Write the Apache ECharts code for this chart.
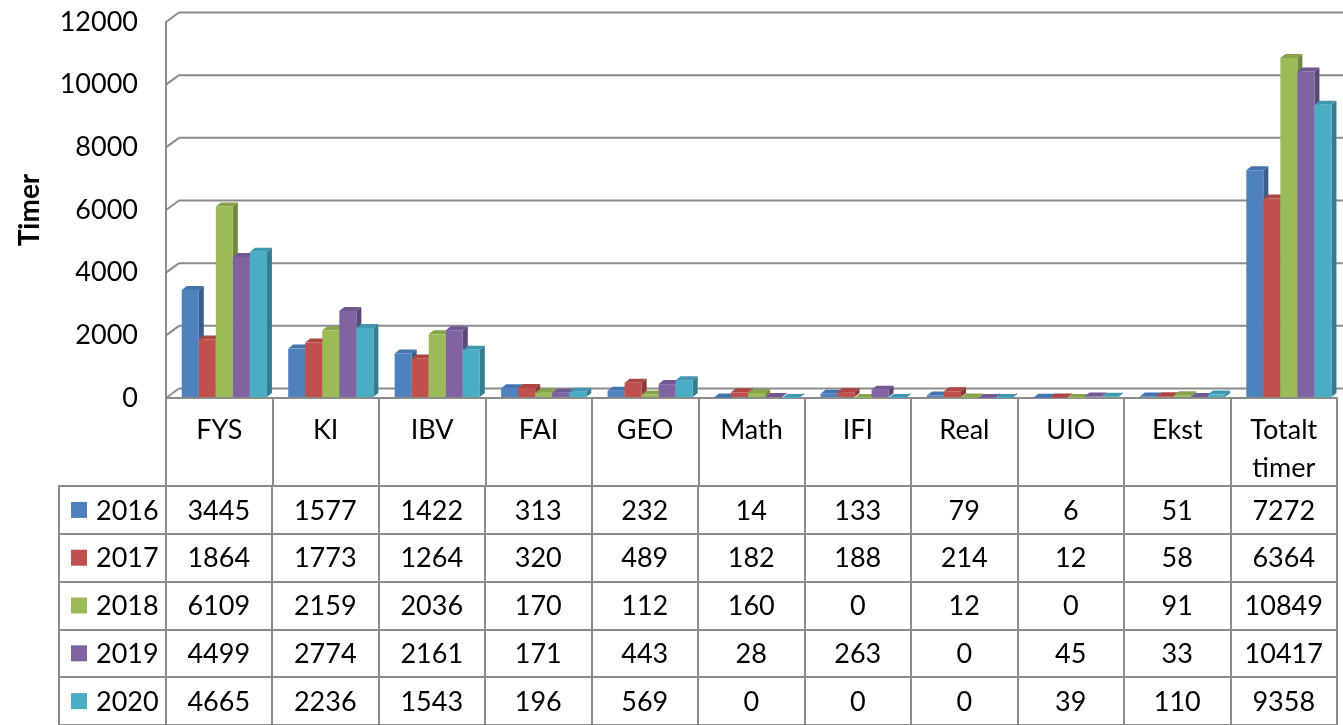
<!DOCTYPE html>
<html>
<head>
<meta charset="utf-8">
<script src="https://cdn.jsdelivr.net/npm/echarts@6/dist/echarts.min.js"></script>
<style>html,body{margin:0;padding:0;background:#fff}#c{width:1343px;height:725px}</style>
</head>
<body>
<div id="c"></div>
<script>
const categories = ['FYS', 'KI', 'IBV', 'FAI', 'GEO', 'Math', 'IFI', 'Real', 'UIO', 'Ekst', 'Totalt timer'];
const years = ['2016', '2017', '2018', '2019', '2020'];
const v2016 = [3445, 1577, 1422, 313, 232, 14, 133, 79, 6, 51, 7272];
const v2017 = [1864, 1773, 1264, 320, 489, 182, 188, 214, 12, 58, 6364];
const v2018 = [6109, 2159, 2036, 170, 112, 160, 0, 12, 0, 91, 10849];
const v2019 = [4499, 2774, 2161, 171, 443, 28, 263, 0, 45, 33, 10417];
const v2020 = [4665, 2236, 1543, 196, 569, 0, 0, 0, 39, 110, 9358];
const yTicks = [0, 2000, 4000, 6000, 8000, 10000, 12000];

const seriesValues = [v2016, v2017, v2018, v2019, v2020];
const colors = [
  {front: '#4F81BD', side: '#385D8A', top: '#4474AE'},
  {front: '#C0504D', side: '#8C3A38', top: '#AD4643'},
  {front: '#9BBB59', side: '#71893F', top: '#87A34C'},
  {front: '#8064A2', side: '#5C4776', top: '#715893'},
  {front: '#4BACC6', side: '#347D91', top: '#4098B0'}
];
const GRID = '#8c8c8c';
const FONT = 'Lato, "Liberation Sans", sans-serif';
const FS = 26;
const FST = 27;

const chart = echarts.init(document.getElementById('c'), null, {renderer: 'canvas'});

const D = 5, DY = 4;

function barSeries(si) {
  return {
    type: 'custom',
    xAxisIndex: 0, yAxisIndex: 0,
    z: 3,
    silent: true,
    data: seriesValues[si].map((v, j) => [j, v]),
    renderItem: function (params, api) {
      const top = api.coord([api.value(0), api.value(1)]);
      const base = api.coord([api.value(0), 0]);
      const band = api.size([1, 0])[0];
      const bw = band * 0.16;
      const left = base[0] - band / 2 + band * 0.148 + si * bw;
      const x1 = left + bw;
      const yb = base[1] - 1, yt = top[1];
      const c = colors[si];
      return {
        type: 'group',
        children: [
          {type: 'polygon', shape: {points: [[x1, yb], [x1, yt], [x1 + D, yt - DY], [x1 + D, yb - DY]]}, style: {fill: c.side}},
          {type: 'polygon', shape: {points: [[left, yt], [x1, yt], [x1 + D, yt - DY], [left + D, yt - DY]]}, style: {fill: c.top}},
          {type: 'rect', shape: {x: left, y: yt, width: bw, height: yb - yt}, style: {fill: c.front}}
        ]
      };
    }
  };
}

const wallSeries = {
  type: 'custom',
  xAxisIndex: 0, yAxisIndex: 0,
  z: 1,
  silent: true,
  data: yTicks.map(v => [0, v]),
  renderItem: function (params, api) {
    const y = api.coord([0, api.value(1)])[1];
    const cs = params.coordSys;
    const x0 = cs.x;
    return {
      type: 'group',
      children: [
        {type: 'line', shape: {x1: x0, y1: y, x2: x0 + 13, y2: y - 9.5}, style: {stroke: GRID, lineWidth: 2}},
        {type: 'line', shape: {x1: x0 + 13, y1: y - 9.5, x2: x0 + cs.width + 30, y2: y - 9.5}, style: {stroke: GRID, lineWidth: 2}}
      ]
    };
  }
};

const tableData = [];
years.forEach((y, r) => {
  tableData.push([0, r]);
  categories.forEach((c, k) => tableData.push([k + 1, r]));
});

const tableSeries = {
  type: 'custom',
  xAxisIndex: 1, yAxisIndex: 1,
  z: 4,
  silent: true,
  data: tableData,
  renderItem: function (params, api) {
    const col = api.value(0), row = api.value(1);
    const p = api.coord([col, row]);
    if (col === 0) {
      const band = api.size([1, 0])[0];
      const lx = p[0] - band / 2;
      return {
        type: 'group',
        children: [
          {type: 'rect', shape: {x: lx + 12, y: p[1] - 8, width: 16, height: 16}, style: {fill: colors[row].front}},
          {type: 'text', style: {text: years[row], x: lx + 37, y: p[1] + 1, align: 'left', verticalAlign: 'middle', fontSize: FST, fontFamily: FONT, fill: '#000'}}
        ]
      };
    }
    return {
      type: 'text',
      style: {text: String(seriesValues[row][col - 1]), x: p[0], y: p[1] + 1, align: 'center', verticalAlign: 'middle', fontSize: FST, fontFamily: FONT, fill: '#000'}
    };
  }
};

const option = {
  animation: false,
  backgroundColor: '#fff',
  grid: [
    {left: 166, right: 6, top: 22, height: 376},
    {left: 59, right: 6, top: 486, height: 241.5}
  ],
  xAxis: [
    {
      type: 'category', gridIndex: 0, data: categories, boundaryGap: true,
      axisLine: {show: true, lineStyle: {color: GRID, width: 2}},
      axisTick: {show: true, interval: 0, length: 88, alignWithLabel: false, lineStyle: {color: GRID, width: 2}},
      axisLabel: {interval: 0, margin: 13, fontSize: FST, fontFamily: FONT, color: '#000', lineHeight: 38, verticalAlign: 'top',
        formatter: v => v.replace(' ', '\n')},
      splitLine: {show: false}
    },
    {
      type: 'category', gridIndex: 1, data: [''].concat(categories), boundaryGap: true, position: 'top',
      axisLine: {show: true, lineStyle: {color: GRID, width: 2}},
      axisTick: {show: false},
      axisLabel: {show: false},
      splitLine: {show: true, interval: 0, lineStyle: {color: GRID, width: 2}}
    }
  ],
  yAxis: [
    {
      type: 'value', gridIndex: 0, min: 0, max: 12000, interval: 2000,
      axisLine: {show: true, lineStyle: {color: GRID, width: 2}},
      axisTick: {show: false},
      splitLine: {show: false},
      axisLabel: {margin: 28, fontSize: FST, fontFamily: FONT, color: '#000', formatter: v => String(v)},
      name: 'Timer', nameLocation: 'middle', nameGap: 122, nameRotate: 90,
      nameTextStyle: {fontSize: 28, fontWeight: 'bold', fontFamily: FONT, color: '#000'}
    },
    {
      type: 'category', gridIndex: 1, data: years, inverse: true,
      axisLine: {show: true, lineStyle: {color: GRID, width: 2}},
      axisTick: {show: false},
      axisLabel: {show: false},
      splitLine: {show: true, interval: 0, lineStyle: {color: GRID, width: 2}}
    }
  ],
  series: [wallSeries].concat(years.map((y, i) => barSeries(i))).concat([tableSeries])
};
chart.setOption(option);
</script>
</body>
</html>
